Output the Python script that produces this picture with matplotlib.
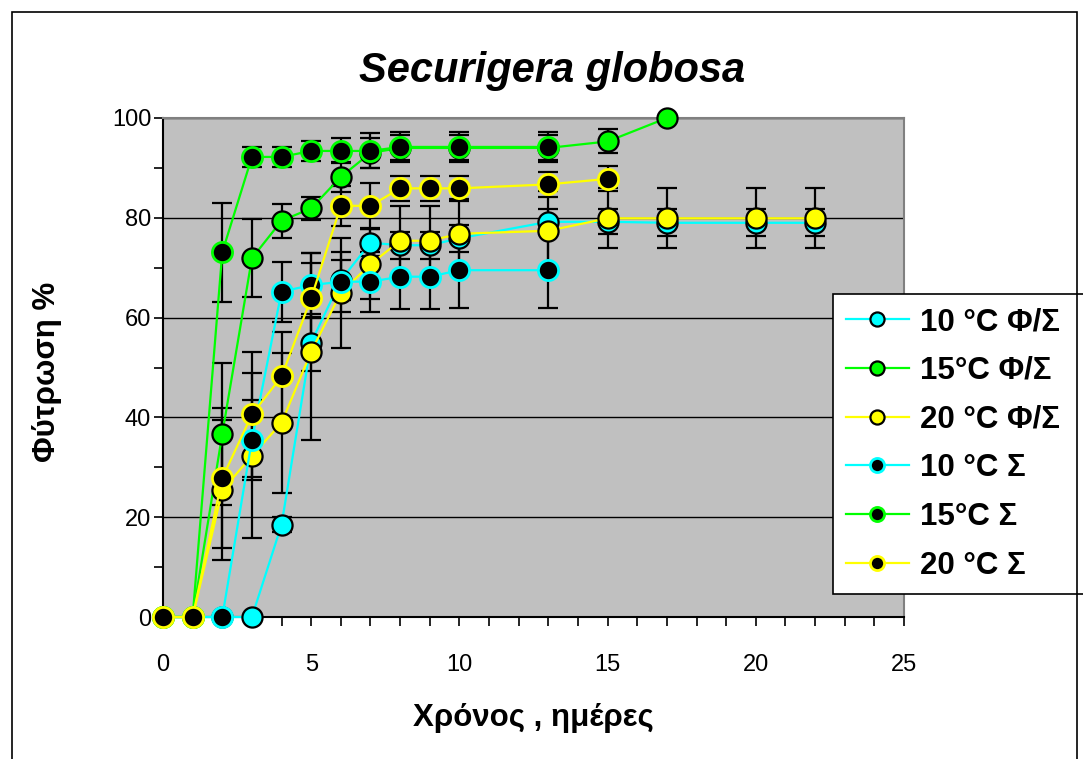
import matplotlib
matplotlib.use("Agg")
import matplotlib.pyplot as plt
from matplotlib.patches import Rectangle
from matplotlib.ticker import MultipleLocator

plt.rcParams['font.family'] = ['Liberation Sans', 'DejaVu Sans']

# days and germination % (mean, error) per series
days_10f = [0, 1, 2, 3, 4, 5, 6, 7, 8, 9, 10, 13, 15, 17, 20, 22]
germ_10f = [0, 0, 0, 0, 18.5, 55, 67.5, 75, 74.5, 74.5, 75.9, 79.2, 79.2, 79, 79, 79]
err_10f = [0, 0, 0, 0, 1.5, 5.7, 4, 2.7, 2.7, 2.7, 2.7, 2.5, 2.5, 2.7, 2.7, 2.7]

days_15f = [0, 1, 2, 3, 4, 5, 6, 7, 8, 10, 13, 15, 17]
germ_15f = [0, 0, 36.7, 71.9, 79.4, 81.9, 88.2, 93, 94, 94, 94, 95.3, 100]
err_15f = [0, 0, 14.3, 7.8, 3.4, 2.3, 3, 3, 2.5, 2.5, 2.5, 2.4, 0]

days_20f = [0, 1, 2, 3, 4, 5, 6, 7, 8, 9, 10, 13, 15, 17, 20, 22]
germ_20f = [0, 0, 25.4, 32.3, 38.9, 53.2, 65, 70.7, 75.4, 75.4, 76.8, 77.4, 79.9, 79.9, 79.9, 79.9]
err_20f = [0, 0, 14, 16.5, 14, 17.8, 11, 7, 7, 7, 7, 8, 6, 6, 6, 6]

days_10s = [0, 1, 2, 3, 4, 5, 6, 7, 8, 9, 10, 13]
germ_10s = [0, 0, 0, 35.5, 65.2, 66.5, 67.2, 67.2, 68.2, 68.2, 69.5, 69.5]
err_10s = [0, 0, 0, 8, 6, 6.4, 6, 6, 6.5, 6.5, 7.5, 7.5]

days_15s = [0, 1, 2, 3, 4, 5, 6, 7, 8, 10, 13]
germ_15s = [0, 0, 73.1, 92.2, 92.2, 93.4, 93.4, 93.4, 94.2, 94.2, 94.2]
err_15s = [0, 0, 9.9, 2, 2, 2, 2.5, 3.5, 3, 3, 3]

days_20s = [0, 1, 2, 3, 4, 5, 6, 7, 8, 9, 10, 13, 15]
germ_20s = [0, 0, 27.8, 40.6, 48.2, 63.9, 82.4, 82.4, 85.9, 85.9, 85.9, 86.7, 87.8]
err_20s = [0, 0, 14, 12.6, 9, 9, 4, 4.5, 2.5, 2.5, 2.5, 2.5, 2.5]

CYAN, GREEN, YELLOW = '#00FFFF', '#00FF00', '#FFFF00'

series = [
    ('10 °C Φ/Σ', days_10f, germ_10f, err_10f, CYAN, False),
    ('15°C Φ/Σ', days_15f, germ_15f, err_15f, GREEN, False),
    ('20 °C Φ/Σ', days_20f, germ_20f, err_20f, YELLOW, False),
    ('10 °C Σ', days_10s, germ_10s, err_10s, CYAN, True),
    ('15°C Σ', days_15s, germ_15s, err_15s, GREEN, True),
    ('20 °C Σ', days_20s, germ_20s, err_20s, YELLOW, True),
]

fig = plt.figure(figsize=(10.83, 7.59), dpi=100)
ax = fig.add_axes([163 / 1083, 1 - 617 / 759, (904 - 163) / 1083, (617 - 118) / 759])
ax.set_facecolor('#C0C0C0')

# outer chart border
fig.patches.append(Rectangle((12 / 1083, -0.01), 1065 / 1083, 1 - 12 / 759 + 0.01,
                             transform=fig.transFigure, fill=False,
                             edgecolor='black', linewidth=1.2))

# error bars behind everything else
for name, d, g, e, c, solid in series:
    ax.errorbar(d, g, yerr=e, fmt='none', ecolor='black', elinewidth=1.6,
                capsize=7, capthick=1.6, zorder=2, clip_on=False)

for i, (name, d, g, e, c, solid) in enumerate(series):
    if solid:
        ax.plot(d, g, '-o', color=c, lw=1.6, markersize=14.5, markerfacecolor='black',
                markeredgecolor=c, markeredgewidth=2, label=name, zorder=3 + i,
                clip_on=False)
    else:
        ax.plot(d, g, '-o', color=c, lw=1.6, markersize=14.5, markerfacecolor=c,
                markeredgecolor='black', markeredgewidth=1.6, label=name, zorder=3 + i,
                clip_on=False)

ax.set_xlim(0, 25)
ax.set_ylim(0, 100)
ax.xaxis.set_major_locator(MultipleLocator(5))
ax.xaxis.set_minor_locator(MultipleLocator(1))
ax.yaxis.set_major_locator(MultipleLocator(20))
ax.yaxis.set_minor_locator(MultipleLocator(10))
ax.tick_params(which='both', direction='out', width=1.2, labelsize=17, color='black', length=6.5)
ax.tick_params(axis='x', pad=20)
ax.tick_params(axis='y', pad=2)
ax.grid(True, axis='y', which='major', color='black', linewidth=1)
ax.set_axisbelow(True)

for s in ['top', 'right']:
    ax.spines[s].set_color('#808080')
    ax.spines[s].set_linewidth(1.5)
for s in ['left', 'bottom']:
    ax.spines[s].set_color('black')
    ax.spines[s].set_linewidth(1.5)

ax.set_title('Securigera globosa', fontsize=30, fontweight='bold', style='italic', pad=26,
             x=(552 - 163) / 741)
ax.set_xlabel('Χρόνος , ημέρες', fontsize=22.5, fontweight='bold')
ax.set_ylabel('Φύτρωση %', fontsize=22.5, fontweight='bold')
ax.xaxis.label.set_va('center')
ax.yaxis.label.set_va('center')
ax.xaxis.set_label_coords((533 - 163) / 741, (617 - 718) / 499)
ax.yaxis.set_label_coords((47 - 163) / 741, (617 - 372) / 499)

leg = ax.legend(loc='upper left', mode='expand',
                bbox_to_anchor=(833 / 1083, 1 - 587 / 759, 260 / 1083, 293 / 759),
                bbox_transform=fig.transFigure, prop={'weight': 'bold', 'size': 22.5},
                frameon=True, fancybox=False, borderaxespad=0, labelspacing=0.6,
                handlelength=2.0, handletextpad=0.35, borderpad=0.42, markerscale=0.7,
                framealpha=1)
leg.get_frame().set_facecolor('white')
leg.get_frame().set_edgecolor('black')
leg.get_frame().set_linewidth(1.2)
leg.set_zorder(20)

fig.savefig('out.png', dpi=100)
